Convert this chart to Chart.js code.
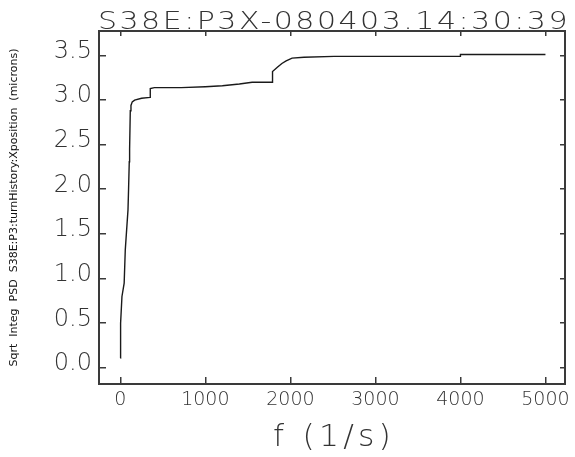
<!DOCTYPE html>
<html><head><meta charset="utf-8">
<script src="https://cdn.jsdelivr.net/npm/chart.js@4/dist/chart.umd.min.js"></script>
<style>html,body{margin:0;padding:0;background:#fff;}canvas{display:block}</style>
</head><body>
<canvas id="c" width="575" height="457"></canvas>
<script>
const chartTitle = 'S38E:P3X-080403.14:30:39';
const xAxisTitle = 'f (1/s)';
const yAxisTitle = 'Sqrt  Integ  PSD  S38E:P3:turnHistory:Xposition  (microns)';
const freq = [0, 3, 19, 45, 58, 70, 90, 97, 105, 109, 117, 125, 140, 168, 250, 350, 352, 400, 716, 1000, 1200, 1400, 1550, 1784, 1790, 1850, 1900, 1950, 2020, 2160, 2515, 3995, 4000, 5000];
const psd  = [0.10, 0.49, 0.79, 0.94, 1.31, 1.48, 1.76, 2.00, 2.30, 2.44, 2.87, 2.93, 2.97, 2.99, 3.01, 3.02, 3.12, 3.13, 3.13, 3.14, 3.15, 3.17, 3.19, 3.19, 3.31, 3.36, 3.40, 3.43, 3.46, 3.47, 3.48, 3.48, 3.50, 3.50];
const xTickValues = [0, 1000, 2000, 3000, 4000, 5000];
const yTickValues = [0, 0.5, 1.0, 1.5, 2.0, 2.5, 3.0, 3.5];

const FONT = "'DejaVu Sans', sans-serif";

function drawStretched(ctx, text, x, baseline, font, spacing, targetW) {
  ctx.save();
  ctx.font = font;
  if ('letterSpacing' in ctx) ctx.letterSpacing = spacing + 'px';
  const w = ctx.measureText(text).width;
  ctx.translate(x, baseline);
  ctx.scale(targetW / w, 1);
  ctx.fillText(text, 0, 0);
  ctx.restore();
}

const decorPlugin = {
  id: 'decor',
  afterDraw(chart) {
    const ctx = chart.ctx;
    const a = chart.chartArea;
    const xs = chart.scales.x, ys = chart.scales.y;
    const L = Math.round(a.left), R = Math.round(a.right), T = Math.round(a.top), B = Math.round(a.bottom);
    ctx.save();
    ctx.fillStyle = '#3a3a3a';
    ctx.fillRect(L - 1, T - 1, R - L + 2, 2);
    ctx.fillRect(L - 1, B - 1, R - L + 2, 2);
    ctx.fillRect(L - 1, T - 1, 2, B - T + 2);
    ctx.fillRect(R - 1, T - 1, 2, B - T + 2);
    xTickValues.forEach(v => {
      const px = Math.round(xs.getPixelForValue(v));
      ctx.fillRect(px, B - 7, 1.5, 7);
      ctx.fillRect(px, T, 1.5, 5);
    });
    yTickValues.forEach(v => {
      const py = Math.round(ys.getPixelForValue(v));
      ctx.fillRect(L, py, 7, 1.5);
      ctx.fillRect(R - 5, py, 5, 1.5);
    });
    ctx.fillStyle = '#333333';
    ctx.textBaseline = 'alphabetic';
    ctx.textAlign = 'left';
    drawStretched(ctx, chartTitle, 98, 29, "200 24px " + FONT, 2, 472);
    drawStretched(ctx, xAxisTitle, 273, 446, "200 30px " + FONT, 4, 122);
    ctx.restore();
  }
};

new Chart(document.getElementById('c'), {
  type: 'line',
  data: {
    datasets: [{
      data: freq.map((f, i) => ({x: f, y: psd[i]})),
      borderColor: '#1a1a1a',
      borderWidth: 1.4,
      pointRadius: 0,
      tension: 0,
      fill: false
    }]
  },
  options: {
    responsive: false,
    animation: false,
    layout: {padding: {left: 0, right: 9, top: 31, bottom: 0}},
    plugins: {legend: {display: false}, tooltip: {enabled: false}, title: {display: false}},
    scales: {
      x: {
        type: 'linear', min: -251, max: 5226,
        afterBuildTicks: s => { s.ticks = xTickValues.map(v => ({value: v})); },
        afterFit: s => { s.height = 73; },
        grid: {display: false, drawTicks: false},
        border: {display: false},
        ticks: {
          autoSkip: false, maxRotation: 0, padding: 5,
          color: '#333333',
          font: {family: FONT, size: 19, weight: '200'},
          callback: v => String(v)
        }
      },
      y: {
        type: 'linear', min: -0.19, max: 3.764,
        afterBuildTicks: s => { s.ticks = yTickValues.map(v => ({value: v})); },
        afterFit: s => { s.width = 99; },
        grid: {display: false, drawTicks: false},
        border: {display: false},
        ticks: {
          autoSkip: false, padding: 7, labelOffset: -3,
          color: '#333333',
          font: {family: FONT, size: 24, weight: '200'},
          callback: v => Number(v).toFixed(1)
        },
        title: {
          display: true, text: yAxisTitle, color: '#111',
          font: {family: FONT, size: 11},
          padding: {top: 8, bottom: 0}
        }
      }
    }
  },
  plugins: [decorPlugin]
});
</script>
</body></html>
